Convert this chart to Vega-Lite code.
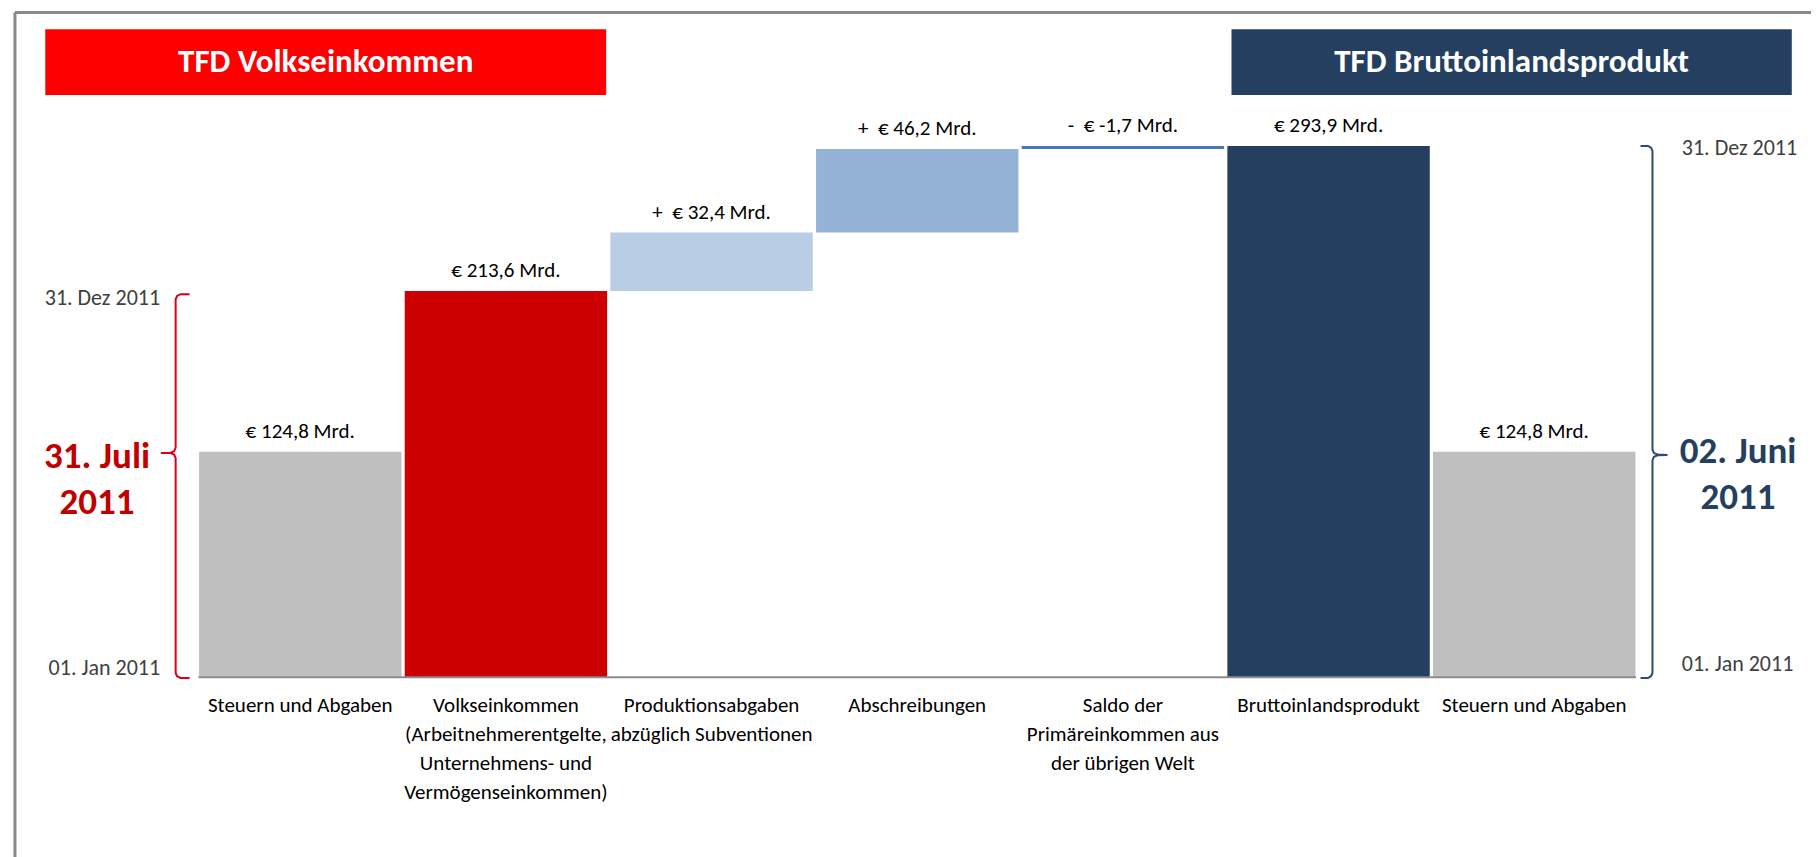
{
  "$schema": "https://vega.github.io/schema/vega-lite/v6.json",
  "width": 1816,
  "height": 857,
  "autosize": {"type": "none"},
  "padding": 0,
  "background": "white",
  "config": {"view": {"stroke": null}, "font": "Carlito, 'Liberation Sans Narrow', 'Open Sans', sans-serif"},
  "datasets": {
    "bars": [
      {"pos": 1, "name": "Steuern und Abgaben", "base": 0, "top": 124.8, "valueLabel": "€ 124,8 Mrd.", "kind": "Steuern"},
      {"pos": 2, "name": "Volkseinkommen|(Arbeitnehmerentgelte,|Unternehmens- und|Vermögenseinkommen)", "base": 0, "top": 213.6, "valueLabel": "€ 213,6 Mrd.", "kind": "Volkseinkommen"},
      {"pos": 3, "name": "Produktionsabgaben|abzüglich Subventionen", "base": 213.6, "top": 246.0, "valueLabel": "+ \u00a0€ 32,4 Mrd.", "kind": "Produktionsabgaben"},
      {"pos": 4, "name": "Abschreibungen", "base": 246.0, "top": 292.2, "valueLabel": "+ \u00a0€ 46,2 Mrd.", "kind": "Abschreibungen"},
      {"pos": 5, "name": "Saldo der|Primäreinkommen aus|der übrigen Welt", "base": 292.2, "top": 293.9, "valueLabel": "- \u00a0€ -1,7 Mrd.", "kind": "Saldo"},
      {"pos": 6, "name": "Bruttoinlandsprodukt", "base": 0, "top": 293.9, "valueLabel": "€ 293,9 Mrd.", "kind": "BIP"},
      {"pos": 7, "name": "Steuern und Abgaben", "base": 0, "top": 124.8, "valueLabel": "€ 124,8 Mrd.", "kind": "Steuern"}
    ],
    "braceL": [
      {"i": 1, "x": 0.462, "y": 211.9},
      {"i": 2, "x": 0.418, "y": 211.9},
      {"i": 3, "x": 0.401, "y": 210.9},
      {"i": 4, "x": 0.394, "y": 209.1},
      {"i": 5, "x": 0.394, "y": 127.0},
      {"i": 6, "x": 0.387, "y": 125.0},
      {"i": 7, "x": 0.370, "y": 124.2},
      {"i": 8, "x": 0.322, "y": 124.1},
      {"i": 9, "x": 0.370, "y": 124.0},
      {"i": 10, "x": 0.387, "y": 123.2},
      {"i": 11, "x": 0.394, "y": 121.2},
      {"i": 12, "x": 0.394, "y": 2.4},
      {"i": 13, "x": 0.401, "y": 0.6},
      {"i": 14, "x": 0.418, "y": -0.4},
      {"i": 15, "x": 0.462, "y": -0.4}
    ],
    "braceR": [
      {"i": 1, "x": 7.517, "y": 293.9},
      {"i": 2, "x": 7.553, "y": 293.9},
      {"i": 3, "x": 7.568, "y": 292.9},
      {"i": 4, "x": 7.575, "y": 291.1},
      {"i": 5, "x": 7.575, "y": 126.0},
      {"i": 6, "x": 7.582, "y": 124.0},
      {"i": 7, "x": 7.600, "y": 123.2},
      {"i": 8, "x": 7.648, "y": 123.0},
      {"i": 9, "x": 7.600, "y": 122.8},
      {"i": 10, "x": 7.582, "y": 122.0},
      {"i": 11, "x": 7.575, "y": 120.0},
      {"i": 12, "x": 7.575, "y": 2.4},
      {"i": 13, "x": 7.568, "y": 0.6},
      {"i": 14, "x": 7.553, "y": -0.4},
      {"i": 15, "x": 7.517, "y": -0.4}
    ]
  },
  "layer": [
    {
      "data": {"name": "bars"},
      "mark": {"type": "bar", "width": 202.4},
      "encoding": {
        "x": {"field": "pos", "type": "quantitative", "scale": {"domain": [-0.4357, 8.3458], "nice": false, "zero": false}, "axis": null},
        "y": {"field": "base", "type": "quantitative", "scale": {"domain": [-99.4, 374.6], "nice": false, "zero": false}, "axis": null},
        "y2": {"field": "top"},
        "color": {"field": "kind", "type": "nominal", "legend": null,
          "scale": {"domain": ["Steuern", "Volkseinkommen", "Produktionsabgaben", "Abschreibungen", "Saldo", "BIP"],
                    "range": ["#BFBFBF", "#CC0000", "#B9CDE5", "#95B3D7", "#4A76B0", "#243F60"]}}
      }
    },
    {
      "data": {"values": [{}]},
      "mark": {"type": "rule", "color": "#8C8C8C", "strokeWidth": 2},
      "encoding": {"x": {"datum": 0.505, "type": "quantitative"}, "x2": {"datum": 7.495}, "y": {"datum": 0, "type": "quantitative"}}
    },
    {
      "data": {"name": "bars"},
      "mark": {"type": "text", "dy": -20, "baseline": "middle", "align": "center", "fontSize": 21, "color": "#000000"},
      "encoding": {
        "x": {"field": "pos", "type": "quantitative"},
        "y": {"field": "top", "type": "quantitative"},
        "text": {"field": "valueLabel"}
      }
    },
    {
      "data": {"name": "bars"},
      "mark": {"type": "text", "dy": 18, "baseline": "top", "align": "center", "fontSize": 21, "lineBreak": "|", "lineHeight": 29, "color": "#000000"},
      "encoding": {
        "x": {"field": "pos", "type": "quantitative"},
        "y": {"datum": 0, "type": "quantitative"},
        "text": {"field": "name"}
      }
    },
    {
      "data": {"name": "braceL"},
      "mark": {"type": "line", "color": "#D9001B", "strokeWidth": 2},
      "encoding": {
        "x": {"field": "x", "type": "quantitative"},
        "y": {"field": "y", "type": "quantitative"},
        "order": {"field": "i"}
      }
    },
    {
      "data": {"name": "braceR"},
      "mark": {"type": "line", "color": "#2E4A72", "strokeWidth": 2},
      "encoding": {
        "x": {"field": "x", "type": "quantitative"},
        "y": {"field": "y", "type": "quantitative"},
        "order": {"field": "i"}
      }
    },
    {
      "data": {"values": [{}]},
      "mark": {"type": "rect", "color": "#FF0000"},
      "encoding": {"x": {"datum": -0.2398, "type": "quantitative"}, "x2": {"datum": 2.4874}, "y": {"datum": 358.4, "type": "quantitative"}, "y2": {"datum": 322.1}}
    },
    {
      "data": {"values": [{}]},
      "mark": {"type": "rect", "color": "#243F60"},
      "encoding": {"x": {"datum": 5.528, "type": "quantitative"}, "x2": {"datum": 8.2524}, "y": {"datum": 358.4, "type": "quantitative"}, "y2": {"datum": 322.1}}
    },
    {
      "data": {"values": [{}]},
      "mark": {"type": "text", "text": "TFD Volkseinkommen", "fontSize": 33, "fontWeight": "bold", "color": "#FFFFFF", "align": "center", "baseline": "middle"},
      "encoding": {"x": {"datum": 1.1238, "type": "quantitative"}, "y": {"datum": 340.3, "type": "quantitative"}}
    },
    {
      "data": {"values": [{}]},
      "mark": {"type": "text", "text": "TFD Bruttoinlandsprodukt", "fontSize": 33, "fontWeight": "bold", "color": "#FFFFFF", "align": "center", "baseline": "middle"},
      "encoding": {"x": {"datum": 6.890, "type": "quantitative"}, "y": {"datum": 340.3, "type": "quantitative"}}
    },
    {
      "data": {"values": [{}]},
      "mark": {"type": "text", "text": "31. Juli|2011", "lineBreak": "|", "lineHeight": 46, "fontSize": 37, "fontWeight": "bold", "color": "#C00000", "align": "center", "baseline": "middle"},
      "encoding": {"x": {"datum": 0.012, "type": "quantitative"}, "y": {"datum": 121.7, "type": "quantitative"}}
    },
    {
      "data": {"values": [{}]},
      "mark": {"type": "text", "text": "02. Juni|2011", "lineBreak": "|", "lineHeight": 46, "fontSize": 37, "fontWeight": "bold", "color": "#243F60", "align": "center", "baseline": "middle"},
      "encoding": {"x": {"datum": 7.991, "type": "quantitative"}, "y": {"datum": 124.8, "type": "quantitative"}}
    },
    {
      "data": {"values": [{}]},
      "mark": {"type": "text", "text": "31. Dez 2011", "fontSize": 22, "color": "#404040", "align": "right", "baseline": "middle"},
      "encoding": {"x": {"datum": 0.3186, "type": "quantitative"}, "y": {"datum": 210, "type": "quantitative"}}
    },
    {
      "data": {"values": [{}]},
      "mark": {"type": "text", "text": "01. Jan 2011", "fontSize": 22, "color": "#404040", "align": "right", "baseline": "middle"},
      "encoding": {"x": {"datum": 0.3186, "type": "quantitative"}, "y": {"datum": 5.1, "type": "quantitative"}}
    },
    {
      "data": {"values": [{}]},
      "mark": {"type": "text", "text": "31. Dez 2011", "fontSize": 22, "color": "#404040", "align": "left", "baseline": "middle"},
      "encoding": {"x": {"datum": 7.7176, "type": "quantitative"}, "y": {"datum": 292.7, "type": "quantitative"}}
    },
    {
      "data": {"values": [{}]},
      "mark": {"type": "text", "text": "01. Jan 2011", "fontSize": 22, "color": "#404040", "align": "left", "baseline": "middle"},
      "encoding": {"x": {"datum": 7.7176, "type": "quantitative"}, "y": {"datum": 7.6, "type": "quantitative"}}
    },
    {
      "data": {"values": [{}]},
      "mark": {"type": "rule", "color": "#898989", "strokeWidth": 3},
      "encoding": {"x": {"datum": -0.3873, "type": "quantitative"}, "x2": {"datum": 8.3458}, "y": {"datum": 367.7, "type": "quantitative"}}
    },
    {
      "data": {"values": [{}]},
      "mark": {"type": "rule", "color": "#898989", "strokeWidth": 3},
      "encoding": {"x": {"datum": -0.3873, "type": "quantitative"}, "y": {"datum": 367.7, "type": "quantitative"}, "y2": {"datum": -99.4}}
    }
  ]
}
